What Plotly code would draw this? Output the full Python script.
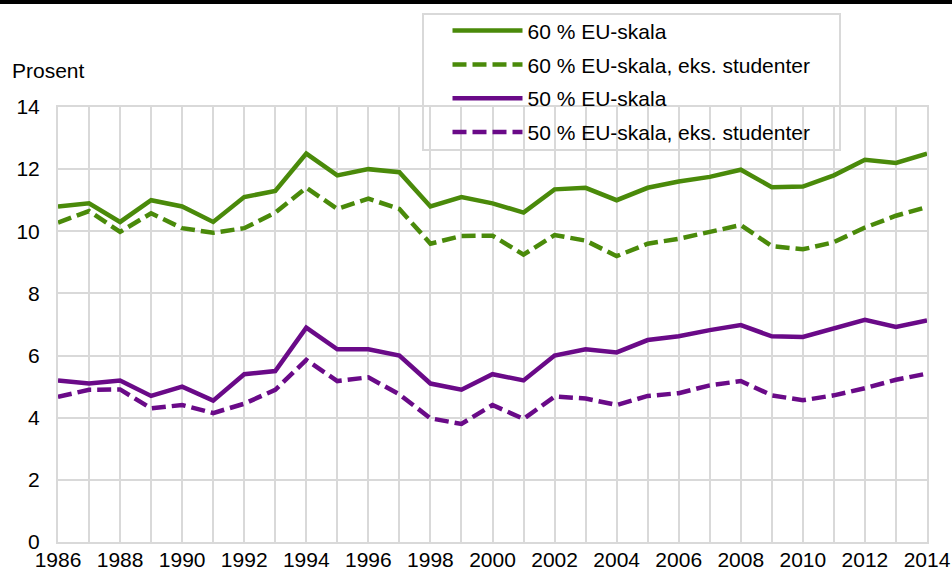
import plotly.graph_objects as go

years = list(range(1986, 2015))
eu60 = [10.8, 10.9, 10.3, 11.0, 10.8, 10.3, 11.1, 11.3, 12.5, 11.8, 12.0, 11.9, 10.8, 11.1, 10.9, 10.6,
        11.35, 11.4, 11.0, 11.4, 11.6, 11.75, 11.98, 11.42, 11.44, 11.8, 12.3, 12.2, 12.5]
eu60_eks = [10.28, 10.65, 9.98, 10.58, 10.1, 9.95, 10.1, 10.6, 11.4, 10.72, 11.05, 10.72, 9.6, 9.85, 9.86, 9.25,
            9.88, 9.7, 9.2, 9.6, 9.76, 9.99, 10.2, 9.52, 9.42, 9.65, 10.12, 10.5, 10.78]
eu50 = [5.2, 5.1, 5.2, 4.7, 5.0, 4.55, 5.4, 5.5, 6.9, 6.2, 6.2, 6.0, 5.1, 4.9, 5.4, 5.2,
        6.0, 6.2, 6.1, 6.5, 6.62, 6.82, 6.98, 6.62, 6.6, 6.86, 7.15, 6.92, 7.13]
eu50_eks = [4.67, 4.9, 4.91, 4.3, 4.41, 4.15, 4.45, 4.9, 5.86, 5.18, 5.3, 4.75, 3.98, 3.8, 4.41, 3.96,
            4.68, 4.62, 4.41, 4.7, 4.79, 5.04, 5.18, 4.72, 4.56, 4.72, 4.95, 5.22, 5.42]

names = ["60 % EU-skala", "60 % EU-skala, eks. studenter", "50 % EU-skala", "50 % EU-skala, eks. studenter"]
GREEN = "#4a8a0a"
PURPLE = "#6a0a88"
FONT = "Liberation Sans, Arial, sans-serif"

fig = go.Figure()
series = [(eu60, GREEN, "solid"), (eu60_eks, GREEN, "14px,6px"),
          (eu50, PURPLE, "solid"), (eu50_eks, PURPLE, "14px,6px")]
for i, ((vals, col, dash), nm) in enumerate(zip(series, names)):
    fig.add_trace(go.Scatter(x=years, y=vals, mode="lines", name=nm, legendgroup=f"g{i}",
                             line=dict(color=col, width=4.5, dash=dash)))

grid = "#d9d9d9"
fig.update_layout(
    width=952, height=570,
    margin=dict(l=58, r=25, t=107, b=28, autoexpand=False),
    paper_bgcolor="white", plot_bgcolor="white",
    font=dict(family=FONT, size=21, color="#000000"),
    showlegend=True,
    legend=dict(x=(447.5 - 58) / 869, y=1.222, xanchor="left", yanchor="top",
                bgcolor="rgba(0,0,0,0)", borderwidth=0,
                font=dict(size=21), itemwidth=70, tracegroupgap=3.5,
                traceorder="grouped"),
    xaxis=dict(range=[1986, 2014], tickmode="array", tickvals=list(range(1986, 2015, 2)),
               showgrid=True, gridcolor=grid, gridwidth=2, zeroline=False,
               showline=True, linecolor=grid, linewidth=2, mirror=True,
               ticks="", ticklabelstandoff=-2, tickfont=dict(size=21)),
    yaxis=dict(range=[0, 14], tickvals=list(range(0, 15, 2)),
               showgrid=True, gridcolor=grid, gridwidth=2, zeroline=False,
               showline=True, linecolor=grid, linewidth=2, mirror=True,
               ticks="", ticklabelstandoff=12, tickfont=dict(size=21)),
)
# vertical gridlines for each year
fig.update_xaxes(minor=dict(dtick=1, showgrid=True, gridcolor=grid, gridwidth=2, tick0=1986))

fig.add_annotation(text="Prosent", xref="paper", yref="paper", x=-0.0552, y=1.085,
                   xanchor="left", yanchor="middle", showarrow=False, font=dict(size=21))
# top black rule
fig.add_shape(type="rect", xref="paper", yref="paper", x0=-0.07, x1=1.03,
              y0=1 + 103 / 435, y1=1 + 108 / 435, fillcolor="black", line=dict(width=0))
# legend box (white, gray border) drawn above gridlines, below traces
fig.add_shape(type="rect", xref="paper", yref="paper", layer="between",
              x0=(423 - 58) / 869, x1=(840 - 58) / 869,
              y0=1 + (107 - 150) / 435, y1=1 + (107 - 14) / 435,
              fillcolor="white", line=dict(color=grid, width=2))

fig.write_html("out.html", config={"displayModeBar": False},
               post_script="document.body.style.margin='0';document.body.style.overflow='hidden';")
